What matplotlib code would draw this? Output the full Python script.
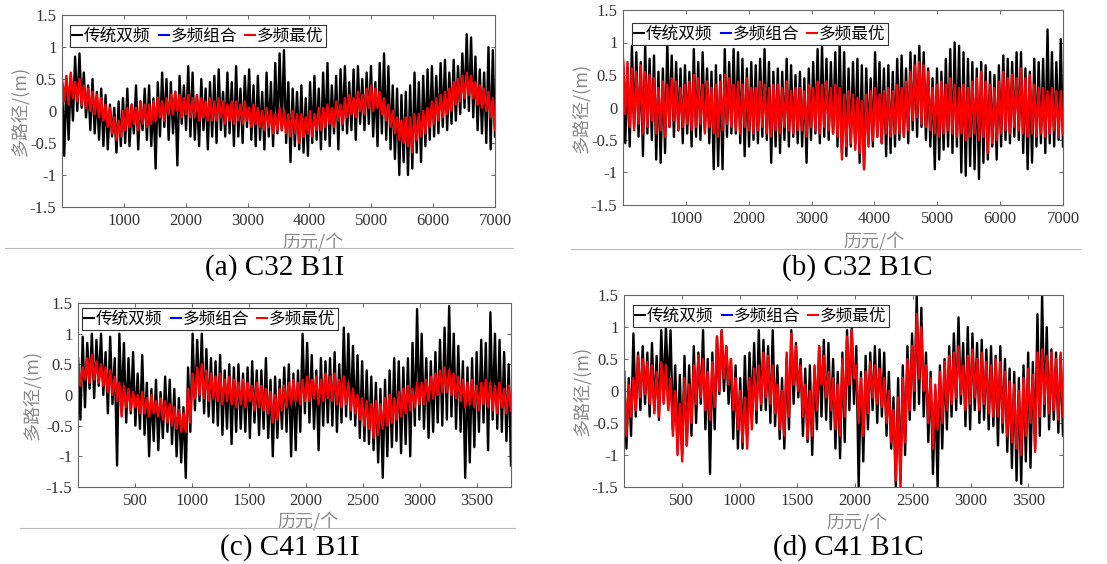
import matplotlib

matplotlib.use("Agg")
import matplotlib.pyplot as plt
import numpy as np
from matplotlib.lines import Line2D

plt.rcParams["font.family"] = ["Liberation Serif", "Noto Sans CJK SC"]
plt.rcParams["axes.unicode_minus"] = False

CJK = ["Noto Sans CJK SC", "DejaVu Sans"]

LEGEND_LABELS = ["传统双频", "多频组合", "多频最优"]
Y_TICKS = [-1.5, -1, -0.5, 0, 0.5, 1, 1.5]
Y_TICK_LABELS = ["-1.5", "-1", "-0.5", "0", "0.5", "1", "1.5"]
X_TICKS_7000 = [1000, 2000, 3000, 4000, 5000, 6000, 7000]
X_TICKS_3800 = [500, 1000, 1500, 2000, 2500, 3000, 3500]
CAPTIONS = ["(a) C32 B1I", "(b) C32 B1C", "(c) C41 B1I", "(d) C41 B1C"]
EPOCHS = [7000, 7000, 3800, 3800]

# multipath values, in cm, evenly spaced over the epochs
c32_b1i_dual = [
    40, -70, 50, -45, 55, -15, 85, 0, 90, 5,
    60, -10, 40, -30, 50, -35, 30, -45, 35, -55,
    25, -60, 10, -40, 5, -65, 15, -55, 20, -50,
    35, -55, 10, -35, 40, -60, 15, -30, 35, -45,
    40, -55, 20, -90, 45, -40, 60, -25, 50, -45,
    45, -35, 30, -85, 55, -20, 40, -30, 70, -40,
    60, -45, 25, -55, 50, -30, 35, -60, 45, -40,
    55, -50, 65, -30, 30, -40, 60, -35, 45, -55,
    70, -40, 35, -50, 55, -25, 65, -45, 40, -55,
    55, -45, 30, -60, 60, -40, 45, -55, 75, -35,
    90, -30, 95, -50, 45, -80, 35, -55, 30, -60,
    40, -65, 20, -70, 45, -50, 55, -45, 35, -60,
    60, -45, 75, -55, 40, -35, 55, -60, 65, -30,
    70, -35, 45, -30, 65, -45, 70, -20, 50, -30,
    60, -20, 70, -40, 45, -55, 75, -35, 90, -45,
    70, -60, 40, -75, 35, -100, 25, -80, 30, -100,
    40, -90, 60, -65, 45, -80, 55, -55, 65, -45,
    70, -40, 55, -35, 75, -25, 80, -30, 60, -20,
    80, -15, 70, -5, 90, 5, 120, 0, 115, -10,
    85, -30, 65, -35, 60, -50, 100, -60, 95, -40,
]
c32_b1i_best = [
    50, 15, 55, 10, 60, 20, 45, 15, 50, 10,
    40, 5, 35, 0, 30, -5, 25, -10, 20, -15,
    10, -25, 5, -35, -10, -45, -15, -40, 0, -30,
    5, -25, 10, -20, 5, -30, 15, -20, 10, -25,
    10, -20, 15, -15, 20, -10, 15, -15, 20, -5,
    25, -5, 30, 0, 25, -10, 20, -5, 25, -10,
    20, -10, 25, -15, 20, -10, 15, -15, 20, -15,
    15, -15, 20, -10, 15, -20, 10, -15, 15, -20,
    15, -15, 10, -20, 15, -15, 5, -25, 10, -20,
    5, -25, 0, -30, 5, -25, 0, -35, -5, -30,
    5, -30, 0, -35, -5, -40, 0, -35, -5, -50,
    -5, -40, -10, -35, 0, -40, -5, -30, 5, -30,
    5, -25, 10, -20, 5, -25, 15, -15, 10, -20,
    20, -10, 25, -5, 20, -10, 30, 0, 25, -5,
    35, 5, 40, 0, 35, 5, 30, -5, 20, -15,
    10, -25, 0, -35, -10, -45, -15, -50, -10, -55,
    -10, -65, -5, -45, -5, -40, 0, -35, 5, -25,
    15, -20, 20, -15, 25, -10, 30, -5, 35, 0,
    45, 10, 50, 15, 55, 20, 60, 25, 55, 20,
    45, 10, 40, 5, 35, 0, 30, -10, 20, -30,
]
c32_b1c_dual = [
    70, -55, 60, -60, 95, -30, 85, -45, 70, -75,
    95, -40, 75, -50, 80, -80, 55, -85, 60, -70,
    100, -30, 80, -45, 70, -35, 60, -55, 65, -40,
    55, -60, 90, -45, 70, -50, 85, -35, 60, -55,
    55, -95, 65, -90, 50, -95, 90, -45, 70, -40,
    90, -40, 85, -55, 75, -75, 60, -60, 70, -50,
    65, -55, 75, -45, 90, -50, 70, -85, 55, -60,
    60, -70, 55, -50, 75, -60, 65, -45, 50, -55,
    55, -60, 45, -85, 60, -50, 70, -40, 90, -55,
    95, -45, 75, -50, 70, -40, 85, -60, 100, -70,
    85, -75, 60, -60, 70, -55, 75, -85, 65, -95,
    60, -55, 45, -60, 85, -45, 70, -55, 60, -75,
    65, -70, 55, -60, 75, -50, 80, -45, 60, -55,
    85, -35, 80, -45, 95, -30, 85, -50, 60, -60,
    45, -95, 60, -80, 55, -65, 75, -60, 90, -70,
    100, -60, 95, -100, 85, -105, 75, -90, 70, -95,
    60, -110, 70, -85, 65, -80, 55, -60, 50, -80,
    65, -60, 80, -50, 75, -55, 70, -45, 85, -50,
    85, -70, 60, -95, 55, -85, 75, -60, 70, -55,
    75, -70, 120, -55, 85, -60, 70, -50, 105, -60,
]
c32_b1c_best = [
    75, -10, 70, -30, 60, -35, 55, -25, 65, -40,
    55, -30, 50, -20, 45, -40, 30, -35, 40, -45,
    35, -30, 45, -20, 40, -35, 30, -30, 35, -25,
    40, -35, 50, -30, 45, -25, 35, -40, 40, -30,
    30, -40, 35, -45, 40, -35, 50, -25, 45, -30,
    35, -35, 40, -40, 35, -30, 45, -35, 30, -40,
    30, -35, 40, -30, 35, -40, 30, -45, 35, -35,
    35, -40, 30, -30, 40, -35, 25, -40, 30, -35,
    30, -35, 25, -45, 35, -30, 30, -35, 40, -40,
    35, -30, 40, -35, 30, -40, 35, -45, 30, -80,
    20, -60, 25, -55, 20, -65, 15, -70, 10, -95,
    20, -60, 25, -50, 30, -45, 20, -55, 25, -40,
    30, -45, 25, -40, 35, -40, 30, -45, 40, -35,
    55, -20, 65, -15, 70, -25, 65, -30, 55, -35,
    30, -40, 35, -45, 40, -40, 35, -35, 45, -40,
    35, -45, 30, -40, 35, -50, 30, -45, 40, -40,
    45, -50, 55, -45, 40, -70, 35, -55, 30, -50,
    40, -40, 55, -35, 45, -40, 50, -30, 45, -35,
    60, -40, 45, -45, 50, -40, 35, -45, 30, -40,
    30, -45, 25, -40, 30, -35, 25, -45, 25, -40,
]
c41_b1i_dual = [
    60, -40, 95, -20, 85, 10, 100, -5, 90, 15,
    100, 0, 70, -30, 95, -15, 60, -115, 100, -20,
    85, -45, 60, -30, 70, -50, 35, -55, 65, -65,
    20, -100, 10, -75, 25, -90, 5, -70, 30, -60,
    25, -80, 10, -100, -5, -110, -20, -135, 45, -60,
    100, -25, 90, -10, 100, -30, 75, -35, 60, -45,
    55, -50, 65, -65, 40, -55, 50, -80, 45, -60,
    50, -55, 35, -60, 45, -70, 55, -45, 40, -65,
    40, -55, 60, -70, 25, -100, 30, -70, 25, -55,
    45, -60, 50, -100, 35, -90, 40, -60, 100, -30,
    85, -45, 65, -55, 40, -90, 60, -50, 55, -45,
    60, -50, 70, -60, 50, -45, 110, -35, 100, -40,
    80, -50, 65, -70, 55, -75, 40, -80, 30, -90,
    20, -110, 10, -135, 25, -100, 40, -85, 60, -75,
    55, -95, 45, -80, 60, -100, 85, -50, 140, -40,
    100, -55, 60, -70, 55, -60, 70, -45, 90, -50,
    110, -40, 145, -35, 100, -55, 80, -60, 55, -135,
    45, -110, 60, -85, 70, -60, 90, -45, 85, -90,
    135, -40, 100, -55, 90, -60, 70, -75, 50, -115,
]
c41_b1i_best = [
    50, 15, 45, 25, 60, 20, 65, 25, 55, 20,
    50, 15, 45, 5, 40, 0, 30, -10, 20, -35,
    15, -20, 10, -25, 5, -20, 0, -30, 5, -30,
    -5, -35, 0, -30, -10, -35, -5, -40, -10, -45,
    -15, -50, -20, -55, -25, -60, -30, -60, 10, -45,
    35, -5, 45, 0, 50, -5, 40, -10, 35, -5,
    30, -10, 35, -15, 25, -10, 30, -15, 25, -20,
    20, -15, 25, -20, 20, -10, 15, -25, 20, -20,
    15, -25, 10, -30, 5, -45, 0, -40, 10, -25,
    15, -20, 20, -15, 25, -10, 20, -15, 25, -10,
    30, -10, 25, -5, 30, -15, 25, -10, 35, -5,
    30, -10, 35, -15, 25, -20, 30, -15, 20, -25,
    10, -30, 0, -40, -5, -50, -10, -55, -15, -70,
    -10, -65, -15, -55, -5, -50, 0, -45, -5, -40,
    5, -35, 10, -30, 15, -25, 10, -20, 20, -15,
    20, -15, 25, -10, 30, -5, 35, 0, 40, 5,
    45, 5, 40, 0, 35, -5, 30, -10, 25, -20,
    20, -15, 25, -20, 15, -25, 20, -15, 25, -20,
    20, -25, 15, -30, 20, -20, 10, -30, 15, -25,
]
c41_b1c_dual = [
    30, -90, 20, -70, 90, -40, 60, -30, 70, -20,
    60, -40, 75, -30, 55, -45, 95, -10, 100, 0,
    95, -60, 40, -85, 25, -100, 55, -85, 40, -70,
    70, -50, 60, -20, 95, -60, 50, -130, 60, -60,
    85, -5, 95, 0, 70, -20, 50, -75, 40, -90,
    20, -90, 55, -70, 60, -40, 75, -50, 95, -30,
    80, -30, 70, -50, 95, -55, 40, -75, 20, -90,
    50, -60, 95, -20, 75, -10, 50, -70, 35, -80,
    40, -100, 35, -60, 70, -40, 80, -45, 75, -60,
    50, -90, 30, -105, 60, -80, 95, -30, 100, -20,
    70, -150, 30, -110, 55, -60, 60, -30, 70, -50,
    65, -40, 60, -70, 30, -90, -10, -150, 20, -140,
    40, -100, 70, -45, 90, -30, 150, -20, 130, -40,
    60, -80, 30, -130, 0, -150, 40, -90, 50, -60,
    70, -40, 90, -30, 115, -20, 75, -55, 100, -60,
    90, -30, 75, -50, 80, -45, 65, -60, 70, -55,
    55, -85, 70, -65, 50, -95, 35, -120, 30, -140,
    20, -145, 40, -110, 60, -120, 45, -90, 120, -70,
    150, -40, 100, -60, 65, -45, 60, -65, 55, -70,
]
c41_b1c_best = [
    30, -70, 10, -40, 20, -30, 55, -10, 50, -5,
    45, -20, 40, -35, 30, -40, 45, -20, 40, -30,
    20, -70, 0, -100, -20, -110, 20, -85, 10, -50,
    40, -20, 55, -10, 50, -30, 30, -45, 45, -25,
    85, 0, 95, 20, 70, 10, 50, -30, 20, -60,
    0, -80, -10, -90, 20, -60, 35, -30, 40, -20,
    60, -10, 55, -20, 40, -35, 10, -60, 0, -70,
    60, -40, 90, 10, 70, 0, 40, -40, 10, -75,
    0, -70, 40, -30, 70, 10, 55, -10, 30, -30,
    20, -60, 10, -70, 50, -40, 85, 10, 95, 20,
    40, -50, 20, -70, 30, -35, 45, -10, 40, -20,
    35, -25, 20, -50, 0, -80, -30, -140, -10, -150,
    20, -80, 50, -30, 70, 0, 120, 20, 100, 0,
    40, -50, 20, -90, 10, -60, 30, -50, 45, -30,
    55, -20, 60, -10, 70, -5, 40, -30, 55, -20,
    65, -10, 50, -30, 60, -20, 45, -35, 40, -40,
    50, -40, 45, -50, 30, -70, 15, -80, 10, -90,
    0, -100, 20, -70, 35, -50, 25, -95, 60, -40,
    65, -20, 55, -35, 60, -30, 50, -45, 60, -40,
]
# the multi-frequency combination sits almost exactly under the optimal series
c32_b1i_combo = c32_b1i_best
c32_b1c_combo = c32_b1c_best
c41_b1i_combo = c41_b1i_best
c41_b1c_combo = c41_b1c_best

W, H = 1107, 564

# axes boxes in pixels: left, top, right, bottom
axes_px = [(62, 15, 495, 207), (623, 10, 1063, 205), (78, 303, 511, 487), (624, 295, 1063, 487)]
legend_anchor = [(0.018, 0.948), (0.02, 0.933), (0.009, 0.973), (0.02, 0.948)]
ylabel_pos = [-0.075, -0.075, -0.085, -0.075]
xlabel_pos = [0.58, 0.57, 0.53, 0.53]
caption_px = [(275, 268), (857, 268), (290, 548), (848, 548)]
separators_px = [(5, 513, 248), (571, 1080, 249), (20, 515, 528)]

series = [
    (c32_b1i_dual, c32_b1i_combo, c32_b1i_best),
    (c32_b1c_dual, c32_b1c_combo, c32_b1c_best),
    (c41_b1i_dual, c41_b1i_combo, c41_b1i_best),
    (c41_b1c_dual, c41_b1c_combo, c41_b1c_best),
]

fig = plt.figure(figsize=(W / 100, H / 100), dpi=100)

for i, (dual, combo, best) in enumerate(series):
    left, top, right, bottom = axes_px[i]
    ax = fig.add_axes([left / W, 1 - bottom / H, (right - left) / W, (bottom - top) / H])
    n = EPOCHS[i]
    for values, color, lw in ((dual, "black", 1.7), (combo, "#0000ff", 1.0), (best, "#ff0000", 1.7)):
        y = np.array(values) / 100.0
        x = np.linspace(1, n, len(y))
        ax.plot(x, y, color=color, linewidth=lw)

    ax.set_xlim(0, n)
    ax.set_ylim(-1.5, 1.5)
    ax.set_xticks(X_TICKS_7000 if n == 7000 else X_TICKS_3800)
    ax.set_yticks(Y_TICKS)
    ax.set_yticklabels(Y_TICK_LABELS)
    ax.tick_params(direction="in", top=True, right=True, length=3, width=0.6,
                   labelsize=12, colors="#555555", labelcolor="#333333", pad=4)
    for spine in ax.spines.values():
        spine.set_color("#666666")
        spine.set_linewidth(0.8)

    ax.set_ylabel("多路径/(m)", family=CJK, fontsize=13, color="#8a8a8a")
    ax.yaxis.set_label_coords(ylabel_pos[i], 0.5)
    ax.set_xlabel("历元/个", family=CJK, fontsize=13, color="#8a8a8a")
    ax.xaxis.set_label_coords(xlabel_pos[i], -0.14)

    handles = [Line2D([], [], color=c, linewidth=1.5) for c in ("black", "#0000ff", "#ff0000")]
    leg = ax.legend(handles, LEGEND_LABELS, loc="upper left", bbox_to_anchor=legend_anchor[i],
                    ncol=3, prop={"family": CJK, "size": 12}, handlelength=0.6,
                    handletextpad=0.1, columnspacing=0.5, borderpad=0.15,
                    borderaxespad=0, fancybox=False, framealpha=1, edgecolor="#333333")
    leg.get_frame().set_linewidth(0.8)

    cx, cy = caption_px[i]
    fig.text(cx / W, 1 - cy / H, CAPTIONS[i], ha="center", va="center", fontsize=21, color="black")

for x0, x1, yy in separators_px:
    fig.add_artist(Line2D([x0 / W, x1 / W], [1 - yy / H, 1 - yy / H], color="#b8b8b8", linewidth=0.8))

fig.savefig("out.png", dpi=100)
